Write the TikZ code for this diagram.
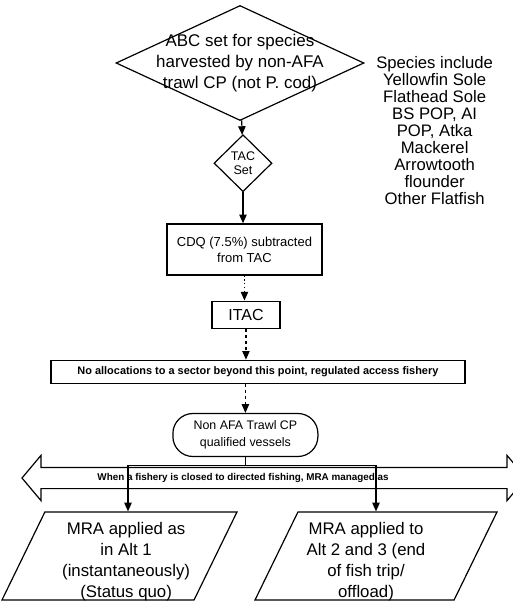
\documentclass[tikz,border=0pt]{standalone}
\usepackage{fontspec}
\setmainfont{Liberation Sans}
\usepackage{tikz}
\usetikzlibrary{shapes.geometric, shapes.arrows, arrows.meta, positioning}

\begin{document}
\begin{tikzpicture}[
      %% Decision diamonds (size fixed, text set on top)
      dec/.style={diamond, draw, line width=0.9pt, inner sep=0pt},
      %% Plain process boxes
      box/.style={rectangle, draw, line width=0.9pt, align=center, inner sep=2pt},
      %% Rounded terminal for the vessel group
      term/.style={rectangle, rounded corners=15pt, draw, line width=0.9pt,
                   align=center, minimum width=108.75pt, minimum height=32.25pt,
                   font=\fontsize{9.3}{12.75}\selectfont},
      %% Outcome parallelograms (text laid on as a centre label)
      para/.style={trapezium, trapezium left angle=64, trapezium right angle=116,
                   trapezium stretches body, draw, line width=0.9pt,
                   inner xsep=0pt, inner ysep=33pt},
      paratext/.style={align=center, font=\fontsize{12.6}{15.75}\selectfont},
      %% Wide two-headed band
      dbl/.style={double arrow, draw, line width=0.9pt, double arrow head extend=9pt,
                  double arrow tip angle=100, minimum height=378pt,
                  inner xsep=0pt, inner ysep=7.5pt},
      arr/.style={-{Triangle[length=6.5pt, width=5.5pt]}, line width=0.9pt},
      dotarr/.style={arr, dotted},
      dasharr/.style={arr, dash pattern=on 2.5pt off 2pt},
    ]
    \useasboundingbox (0,0) rectangle (384.75pt,-453pt);

    %% ── Main column ─────────────────────────────────────────────────────────
    \node[dec, minimum width=186pt, minimum height=86.25pt,
          label={[font=\fontsize{12.7}{15.75}\selectfont, align=center]center:{ABC set for species\\
                 harvested by non-AFA\\trawl CP (not P. cod)}}]
          (abc) at (180pt,-47.25pt) {};

    \node[dec, below=9.75pt of abc, xshift=2.25pt, minimum width=43.5pt,
          minimum height=42.75pt, align=center,
          font=\fontsize{9.4}{10.5}\selectfont] (tac) {TAC\\Set};

    \node[box, below=23.25pt of tac, xshift=1.1pt, minimum width=116.25pt,
          minimum height=38.25pt, font=\fontsize{9.75}{12}\selectfont] (cdq)
      {CDQ (7.5\%) subtracted\\from TAC};

    \node[box, below=18.75pt of cdq, xshift=1.1pt, minimum width=51pt,
          minimum height=20.25pt, font=\fontsize{12}{14}\selectfont] (itac) {ITAC};

    \node[box, below=23.25pt of itac, xshift=9pt, minimum width=310.5pt,
          minimum height=17.25pt, font=\bfseries\fontsize{8.2}{10}\selectfont] (limit)
      {No allocations to a sector beyond this point, regulated access fishery};

    \node[term, below=21.75pt of limit, xshift=-9.4pt] (crew)
      {Non AFA Trawl CP\\qualified vessels};

    %% ── Side list ───────────────────────────────────────────────────────────
    \node[font=\fontsize{12.5}{12.75}\selectfont, align=center, anchor=north]
      (spp) at (326pt,-38.5pt)
      {Species include\\Yellowfin Sole\\Flathead Sole\\BS POP, AI\\POP, Atka\\
       Mackerel\\Arrowtooth\\flounder\\Other Flatfish};

    %% ── Closure band and outcomes ───────────────────────────────────────────
    \node[dbl, label={[xshift=-23.25pt, font=\bfseries\fontsize{7.4}{9}\selectfont]center:{When
          a fishery is closed to directed fishing, MRA managed as}}]
      (closed) at (205.5pt,-358.5pt) {};

    \node[para, minimum width=176.25pt,
          label={[paratext, xshift=5pt, yshift=-4.5pt]center:{MRA applied as\\in Alt 1\\
                 (instantaneously)\\(Status quo)}}]
      (mraL) at (89.6pt,-417pt) {};

    \node[para, minimum width=181.5pt,
          label={[paratext, xshift=-7.5pt, yshift=-4.5pt]center:{MRA applied to\\
                 Alt 2 and 3 (end\\of fish trip/\\offload)}}]
      (mraR) at (282pt,-417pt) {};

    %% ── Arrows ──────────────────────────────────────────────────────────────
    \draw[arr] (abc) -- (tac);
    \draw[arr] (tac.south) -- (tac.south |- cdq.north);
    \draw[dotarr] (cdq.south) -- (cdq.south |- itac.north);
    \draw[dasharr] (itac.south) -- (itac.south |- limit.north);
    \draw[dasharr] (limit.south -| crew.north) -- (crew.north);

    %% vessel group splits to both outcomes across the band
    \draw[line width=0.9pt] (crew.south) -- ++(0,-6pt) coordinate (fork);
    \draw[arr] (fork) -| ([xshift=6.4pt]mraL.north);
    \draw[arr] (fork) -| (mraR.north);
  \end{tikzpicture}
\end{document}
